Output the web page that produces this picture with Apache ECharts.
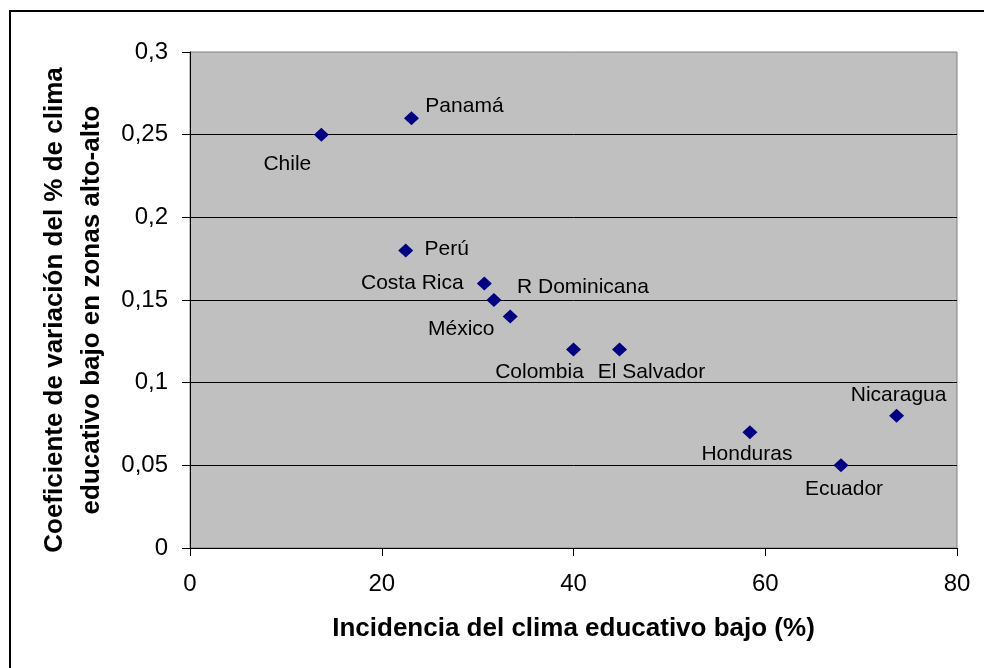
<!DOCTYPE html>
<html>
<head>
<meta charset="utf-8">
<script src="https://cdn.jsdelivr.net/npm/echarts@6/dist/echarts.min.js"></script>
<style>
    html, body { margin: 0; padding: 0; background: #fff; }
    #chart { width: 984px; height: 668px; }
</style>
</head>
<body>
<div id="chart"></div>
<script>
const countries = ["Chile", "Panamá", "Perú", "Costa Rica", "R Dominicana", "México",
    "Colombia", "El Salvador", "Honduras", "Nicaragua", "Ecuador"];
const incidencia = [13.7, 23.1, 22.5, 30.7, 31.7, 33.4, 40.0, 44.8, 58.4, 73.7, 67.9];
const coeficiente = [0.25, 0.26, 0.18, 0.16, 0.15, 0.14, 0.12, 0.12, 0.07, 0.08, 0.05];
const xTicks = [0, 20, 40, 60, 80];
const yTicks = [0, 0.05, 0.1, 0.15, 0.2, 0.25, 0.3];

// where each country name sits relative to its marker
const labelOffsets = [
    [-34, 30], [53, -12], [41, -1], [-72, 0], [89, -13], [-49, 13],
    [-34, 23], [32, 23], [-3, 22], [2, -21], [3, 24],
];

const font = "'Liberation Sans', Arial, sans-serif";

const points = countries.map((name, i) => ({
    name: name,
    value: [incidencia[i], coeficiente[i]],
    label: { offset: labelOffsets[i] },
}));

const option = {
    animation: false,
    graphic: [{
        type: "rect",
        shape: { x: 10, y: 11, width: 1000, height: 700 },
        style: { fill: "none", stroke: "#000", lineWidth: 2 },
        silent: true,
    }],
    grid: {
        left: 190,
        right: 27,
        top: 52,
        bottom: 120,
        show: true,
        backgroundColor: "#c0c0c0",
        borderColor: "#808080",
        borderWidth: 1,
    },
    xAxis: {
        type: "value",
        min: xTicks[0],
        max: xTicks[xTicks.length - 1],
        interval: xTicks[1] - xTicks[0],
        name: "Incidencia del clima educativo bajo (%)",
        nameLocation: "middle",
        nameGap: 68,
        nameTextStyle: { fontFamily: font, fontSize: 26, fontWeight: "bold", color: "#000" },
        axisLine: { lineStyle: { color: "#000", width: 1 } },
        axisTick: { show: true, length: 8, lineStyle: { color: "#000" } },
        axisLabel: { margin: 24, fontFamily: font, fontSize: 24, color: "#000" },
        splitLine: { show: false },
    },
    yAxis: {
        type: "value",
        min: yTicks[0],
        max: yTicks[yTicks.length - 1],
        interval: yTicks[1] - yTicks[0],
        name: "Coeficiente de variación del % de clima\neducativo bajo en zonas alto-alto",
        nameLocation: "middle",
        nameGap: 80,
        nameTextStyle: {
            fontFamily: font,
            fontSize: 26,
            fontWeight: "bold",
            color: "#000",
            lineHeight: 37,
            padding: [0, 20, 0, 0],
        },
        axisLine: { show: true, lineStyle: { color: "#000", width: 1 } },
        axisTick: { show: true, length: 8, lineStyle: { color: "#000" } },
        axisLabel: {
            margin: 22,
            fontFamily: font,
            fontSize: 24,
            color: "#000",
            formatter: (v) => String(+v.toFixed(2)).replace(".", ","),
        },
        splitLine: {
            show: true,
            showMaxLine: false,
            lineStyle: { color: "#000", width: 1 },
        },
    },
    series: [{
        type: "scatter",
        data: points,
        symbol: "diamond",
        symbolSize: [15, 14],
        itemStyle: { color: "#000080", opacity: 1 },
        label: {
            show: true,
            position: "inside",
            formatter: "{b}",
            fontFamily: font,
            fontSize: 21,
            color: "#000",
        },
    }],
};

const myChart = echarts.init(document.getElementById("chart"));
myChart.setOption(option);
</script>
</body>
</html>
